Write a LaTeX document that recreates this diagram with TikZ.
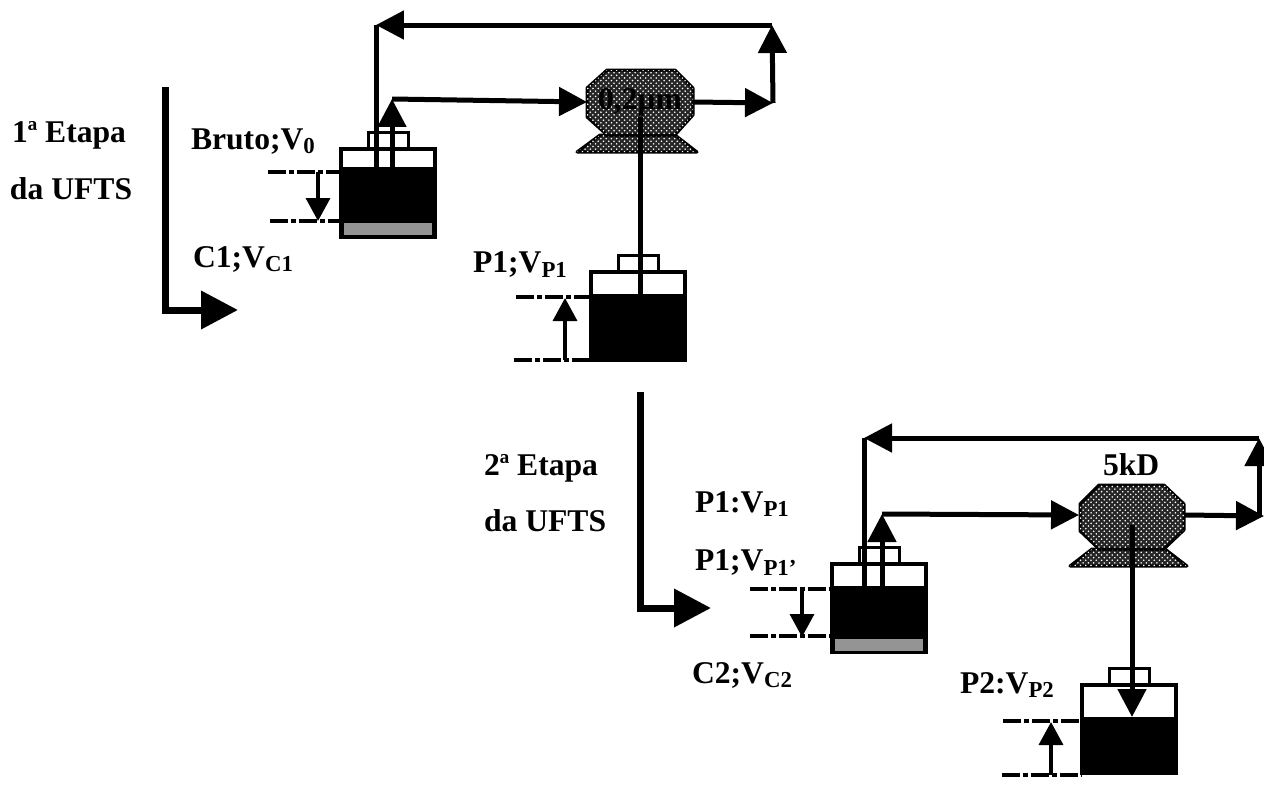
\documentclass[tikz,border=0pt]{standalone}
\usepackage{fontspec}
\setmainfont{Liberation Serif}
\usetikzlibrary{positioning,arrows.meta,patterns}

\newcommand{\subs}[1]{\raisebox{-0.28ex}{\fontsize{13}{14}\selectfont #1}}

\begin{document}
\begin{tikzpicture}[x=0.02cm, y=-0.02cm,
  every node/.style={inner sep=0pt, outer sep=0pt},
  tank/.style={draw, line width=0.07cm, minimum width=1.88cm, minimum height=1.76cm},
  lid/.style={draw, line width=0.06cm, minimum width=0.8cm, minimum height=0.34cm},
  liquid/.style={fill=black, minimum width=1.88cm, minimum height=#1},
  sludge/.style={fill=black!42, minimum width=1.76cm, minimum height=0.24cm},
  speckle/.style={draw, line width=0.06cm, line join=round, fill=black!85, postaction={pattern=crosshatch dots, pattern color=white}},
  filterport/.style={minimum width=2.12cm, minimum height=0.8cm},
  tag/.style={font=\fontsize{18}{20}\selectfont\bfseries, anchor=west},
  pipe/.style={line width=0.1cm},
  flow/.style={pipe, -{Triangle[length=0.56cm, width=0.56cm]}},
  mark line/.style={line width=0.07cm, dash pattern=on 0.36cm off 0.06cm on 0.1cm off 0.06cm},
  gauge/.style={line width=0.07cm, -{Triangle[length=0.46cm, width=0.48cm]}},
  stage/.style={line width=0.14cm, -{Triangle[length=0.74cm, width=0.74cm]}}]

  \useasboundingbox (0,0) rectangle (1264,808);

  % First stage, feed tank
  \node[tank] (T1) at (388,193) {};
  \node[liquid=1.4cm, anchor=south] (L1) at (T1.south) {};
  \node[sludge, anchor=south, yshift=0.03cm] (S1) at (T1.south) {};
  \node[lid, above=0pt of T1] (K1) {};

  % First stage, filter
  \draw[speckle] (577,152) -- (697,152) -- (675,135) -- (600,135) -- cycle;
  \draw[speckle] (607,70) -- (675,70) -- (693,88) -- (693,115) -- (675,135) -- (607,135) -- (587,117) -- (587,88) -- cycle;
  \node[filterport] (F1) at (640,102) {\fontsize{18}{20}\selectfont\bfseries 0,2μm};

  % First stage, permeate tank
  \node[tank] (T2) at (638,316) {};
  \node[liquid=1.32cm, anchor=south] (L2) at (T2.south) {};
  \node[lid, above=0pt of T2] (K2) {};

  % Second stage, feed tank
  \node[tank] (T3) at (879,608) {};
  \node[liquid=1.32cm, anchor=south] (L3) at (T3.south) {};
  \node[sludge, anchor=south, yshift=0.03cm] (S3) at (T3.south) {};
  \node[lid, above=0pt of T3] (K3) {};

  % Second stage, filter
  \draw[speckle] (1070,566) -- (1187,566) -- (1165,549) -- (1092,549) -- cycle;
  \draw[speckle] (1099,485) -- (1164,485) -- (1184,504) -- (1184,530) -- (1164,549) -- (1099,549) -- (1080,531) -- (1080,504) -- cycle;
  \node[filterport] (F2) at (1132,515) {};

  % Second stage, permeate tank
  \node[tank] (T4) at (1129,729) {};
  \node[liquid=1.12cm, anchor=south] (L4) at (T4.south) {};
  \node[lid, above=0pt of T4] (K4) {};

  % Corners of the loops
  \coordinate (R1) at (392,99);
  \coordinate (O1) at (773,103);
  \coordinate (U1) at (772,25);
  \coordinate (V1) at (376,25);
  \coordinate (R3) at (882,514);
  \coordinate (O3) at (1264,516);
  \coordinate (C3) at (1259,516);
  \coordinate (U3) at (1259,438);
  \coordinate (V3) at (864,438);

  % First loop
  \draw[flow] (L1.north -| R1) -- (R1);
  \draw[flow] (R1) -- (F1.west);
  \draw[flow] (F1.east) -- (O1);
  \draw[flow] (O1) -- (U1);
  \draw[flow] (U1) -- (V1);
  \draw[pipe] (V1) -- (L1.north -| V1);

  % Second loop
  \draw[flow] (L3.north -| R3) -- (R3);
  \draw[flow] (R3) -- (F2.west);
  \draw[flow] (F2.east) -- (O3);
  \draw[flow] (C3) -- (U3);
  \draw[flow] (U3) -- (V3);
  \draw[pipe] (V3) -- (L3.north -| V3);

  % Permeate lines
  \draw[pipe] ([yshift=-0.3cm]F1.center) -- (L2.north -| F1.center);
  \draw[flow] ([yshift=-0.2cm]F2.center) -- (L4.north -| F2.center);

  % Level marks
  \coordinate (A1) at (268,172);
  \coordinate (A2) at (270,221);
  \coordinate (G1) at (318,172);
  \coordinate (H1) at (318,221);
  \draw[mark line] (A1) -- (T1.west |- A1);
  \draw[mark line] (A2) -- (T1.west |- A2);
  \draw[gauge] (G1) -- (H1);

  \coordinate (A3) at (516,297);
  \coordinate (A4) at (514,360);
  \coordinate (G2) at (565,360);
  \coordinate (H2) at (565,298);
  \draw[mark line] (A3) -- (T2.west |- A3);
  \draw[mark line] (A4) -- (T2.west |- A4);
  \draw[gauge] (G2) -- (H2);

  \coordinate (A5) at (750,589);
  \coordinate (A6) at (750,636);
  \coordinate (G3) at (802,589);
  \coordinate (H3) at (802,637);
  \draw[mark line] (A5) -- (T3.west |- A5);
  \draw[mark line] (A6) -- (T3.west |- A6);
  \draw[gauge] (G3) -- (H3);

  \coordinate (A7) at (1003,721);
  \coordinate (A8) at (1002,775);
  \coordinate (G4) at (1051,775);
  \coordinate (H4) at (1051,722);
  \draw[mark line] (A7) -- (T4.west |- A7);
  \draw[mark line] (A8) -- (T4.west |- A8);
  \draw[gauge] (G4) -- (H4);

  % Stage arrows
  \coordinate (E1) at (165,87);
  \coordinate (E2) at (165,310);
  \coordinate (E3) at (238,310);
  \coordinate (E4) at (640,392);
  \coordinate (E5) at (640,608);
  \coordinate (E6) at (711,608);
  \draw[stage] (E1) -- (E2) -- (E3);
  \draw[stage] (E4) -- (E5) -- (E6);

  % Labels
  \node[tag] (N1) at (12,135) {1ª Etapa};
  \node[tag] (N2) at (10,189) {da UFTS};
  \node[tag] (N3) at (191,142) {Bruto;V\subs{0}};
  \node[tag] (N4) at (193,259) {C1;V\subs{C1}};
  \node[tag] (N5) at (473,265) {P1;V\subs{P1}};
  \node[tag] (N6) at (484,468) {2ª Etapa};
  \node[tag] (N7) at (484,521) {da UFTS};
  \node[tag] (N8) at (695,504) {P1:V\subs{P1}};
  \node[tag] (N9) at (695,563) {P1;V\subs{P1’}};
  \node[tag] (N10) at (692,675) {C2;V\subs{C2}};
  \node[tag] (N11) at (960,685) {P2:V\subs{P2}};
  \node[tag] (N12) at (1103,465) {5kD};

\end{tikzpicture}
\end{document}
